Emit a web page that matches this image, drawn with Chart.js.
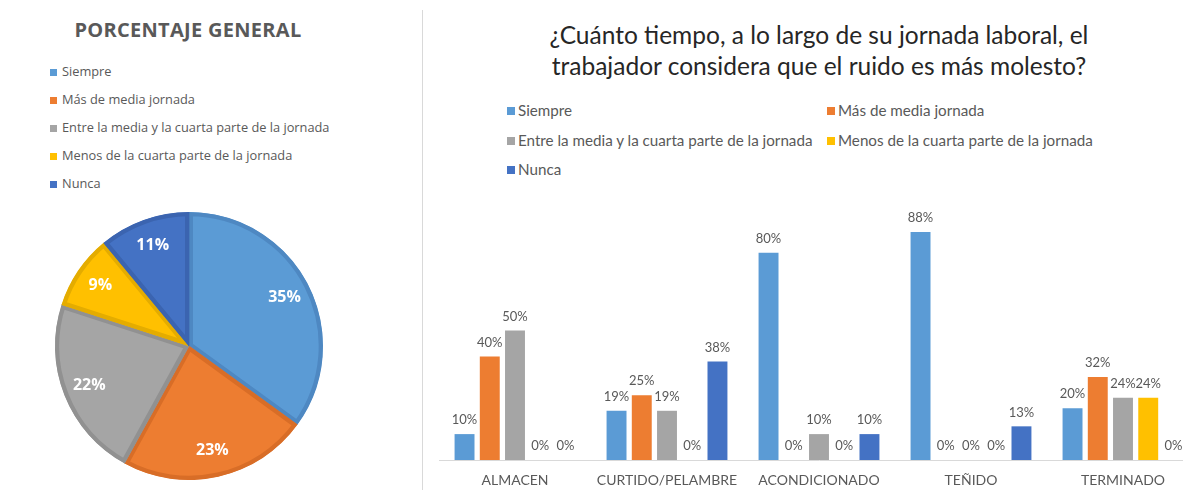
<!DOCTYPE html>
<html>
<head>
<meta charset="utf-8">
<script src="https://cdn.jsdelivr.net/npm/chart.js@4.4.1/dist/chart.umd.min.js"></script>
<style>
  html, body { margin: 0; padding: 0; background: #fff; }
  body { width: 1183px; height: 492px; overflow: hidden; position: relative; }
  canvas { position: absolute; top: 0; }
  #pieChart { left: 0; }
  #barChart { left: 425px; }
  .divider { position: absolute; left: 422px; top: 10px; width: 1px; height: 480px; background: #d9d9d9; }
  .pie-title { position: absolute; left: 0; width: 376px; top: 16px; text-align: center;
    font: bold 20px "Open Sans", sans-serif; color: #595959; letter-spacing: 0.3px; }
  .bar-title { position: absolute; left: 469px; width: 700px; top: 19px; text-align: center;
    font: 24.5px Lato, sans-serif; color: #262626; line-height: 31px; }
  .lg { position: absolute; white-space: nowrap; color: #595959; }
  .lg i { position: absolute; left: 0; }
</style>
</head>
<body>
<div class="divider"></div>
<div class="pie-title">PORCENTAJE GENERAL</div>
<div class="bar-title">¿Cuánto tiempo, a lo largo de su jornada laboral, el<br>trabajador considera que el ruido es más molesto?</div>
<div id="pieLegend"></div>
<div id="barLegend"></div>
<canvas id="pieChart" width="420" height="492"></canvas>
<canvas id="barChart" width="800" height="492"></canvas>
<script>
const categories = ['ALMACEN', 'CURTIDO/PELAMBRE', 'ACONDICIONADO', 'TEÑIDO', 'TERMINADO'];
const seriesNames = [
    'Siempre',
    'Más de media jornada',
    'Entre la media y la cuarta parte de la jornada',
    'Menos de la cuarta parte de la jornada',
    'Nunca'
];

// percent per area
const siempre = [10, 19, 80, 88, 20];
const masMedia = [40, 25, 0, 0, 32];
const entreMedia = [50, 19, 10, 0, 24];
const menosCuarta = [0, 0, 0, 0, 24];
const nunca = [0, 38, 10, 13, 0];

// overall percent
const generalPct = [35, 23, 22, 9, 11];

const colors = ['#5B9BD5', '#ED7D31', '#A5A5A5', '#FFC000', '#4472C4'];
const edgeColors = ['#4E88C2', '#D86D27', '#919191', '#E4AC00', '#3B64B0'];

// legends
function buildLegend(id, items, font, box) {
    const host = document.getElementById(id);
    items.forEach(it => {
        const d = document.createElement('div');
        d.className = 'lg';
        d.style.left = it.x + 'px';
        d.style.top = (it.y - 10) + 'px';
        d.style.height = '20px';
        d.style.lineHeight = '20px';
        d.style.paddingLeft = box.gap + 'px';
        d.style.font = font;
        const sq = document.createElement('i');
        sq.style.width = box.size + 'px';
        sq.style.height = box.size + 'px';
        sq.style.top = (10 - box.size / 2) + 'px';
        sq.style.background = it.color;
        d.appendChild(sq);
        d.appendChild(document.createTextNode(it.text));
        host.appendChild(d);
    });
}

buildLegend('pieLegend', seriesNames.map((n, i) => ({
    text: n, color: colors[i], x: 50, y: 72 + i * 28
})), '12.8px "Open Sans", sans-serif', { size: 7, gap: 12 });

const barLegendPos = [[507, 111], [827, 111], [507, 140.5], [827, 140.5], [507, 170]];
buildLegend('barLegend', seriesNames.map((n, i) => ({
    text: n, color: colors[i], x: barLegendPos[i][0], y: barLegendPos[i][1]
})), '15.2px Lato, sans-serif', { size: 8, gap: 11 });

// pie labels
const pieLabels = {
    id: 'pieLabels',
    afterDatasetsDraw(chart) {
        const ctx = chart.ctx;
        const meta = chart.getDatasetMeta(0);
        ctx.save();
        ctx.font = 'bold 16px "Open Sans", sans-serif';
        ctx.fillStyle = '#ffffff';
        ctx.textAlign = 'center';
        ctx.textBaseline = 'middle';
        meta.data.forEach((arc, i) => {
            const p = arc.getProps(['x', 'y', 'startAngle', 'endAngle', 'outerRadius'], true);
            const mid = (p.startAngle + p.endAngle) / 2;
            const r = p.outerRadius * 0.8;
            ctx.fillText(generalPct[i] + '%', p.x + Math.cos(mid) * r, p.y + Math.sin(mid) * r);
        });
        ctx.restore();
    }
};

new Chart(document.getElementById('pieChart'), {
    type: 'pie',
    data: {
        labels: seriesNames,
        datasets: [{
            data: generalPct,
            backgroundColor: colors,
            borderColor: edgeColors,
            borderWidth: 4,
            borderAlign: 'inner'
        }]
    },
    options: {
        responsive: false,
        animation: false,
        devicePixelRatio: 1,
        layout: { padding: { left: 55, right: 97, top: 212, bottom: 12 } },
        plugins: {
            legend: { display: false },
            title: { display: false },
            tooltip: { enabled: false }
        }
    },
    plugins: [pieLabels]
});

// bar value labels
const barLabels = {
    id: 'barLabels',
    afterDatasetsDraw(chart) {
        const ctx = chart.ctx;
        ctx.save();
        ctx.font = '13px Lato, sans-serif';
        ctx.fillStyle = '#595959';
        ctx.textAlign = 'center';
        ctx.textBaseline = 'middle';
        chart.data.datasets.forEach((ds, di) => {
            chart.getDatasetMeta(di).data.forEach((bar, i) => {
                ctx.fillText(ds.data[i] + '%', bar.x, bar.y - 14);
            });
        });
        ctx.restore();
    }
};

const barSeries = [siempre, masMedia, entreMedia, menosCuarta, nunca];

new Chart(document.getElementById('barChart'), {
    type: 'bar',
    data: {
        labels: categories,
        datasets: barSeries.map((vals, i) => ({
            label: seriesNames[i],
            data: vals,
            backgroundColor: colors[i],
            categoryPercentage: 0.83,
            barPercentage: 0.79
        }))
    },
    options: {
        responsive: false,
        animation: false,
        devicePixelRatio: 1,
        layout: { padding: { left: 14, right: 26, top: 201, bottom: 0 } },
        scales: {
            x: {
                grid: { display: false, drawTicks: false },
                border: { display: true, color: '#d9d9d9', width: 1 },
                ticks: {
                    color: '#595959',
                    font: { family: 'Lato', size: 14 },
                    padding: 12,
                    maxRotation: 0,
                    autoSkip: false
                },
                afterFit(scale) { scale.height = 32; }
            },
            y: {
                display: false,
                min: 0,
                max: 100
            }
        },
        plugins: {
            legend: { display: false },
            title: { display: false },
            tooltip: { enabled: false }
        }
    },
    plugins: [barLabels]
});
</script>
</body>
</html>
